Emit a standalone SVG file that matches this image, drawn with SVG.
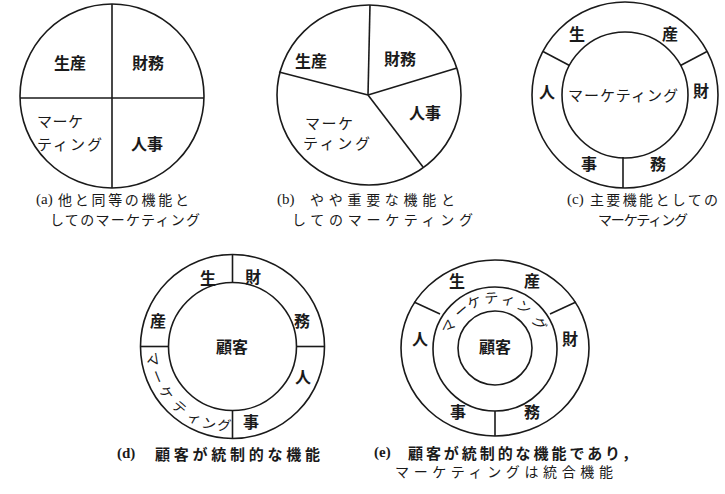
<svg xmlns="http://www.w3.org/2000/svg" width="725" height="494" viewBox="0 0 725 494">
<style>
.bg{fill:#fff}
.ln{fill:none;stroke:#1a1a1a;stroke-width:1.6}
.t{font-family:"Noto Sans CJK JP","Noto Sans CJK SC",sans-serif;fill:#1a1a1a}
.p{font-family:"Liberation Serif",serif;fill:#1a1a1a;font-size:15px;dominant-baseline:central}
.lb{font-size:16px;font-weight:bold;text-anchor:middle;dominant-baseline:central}
.kk{font-size:15px;dominant-baseline:central}
.cap{font-size:14px;dominant-baseline:central}
.capb{font-size:15px;font-weight:bold;dominant-baseline:central}
.arc{font-size:14px;text-anchor:middle;dominant-baseline:central}
</style>
<rect class="bg" width="725" height="494"/>

<g id="a">
<circle class="ln" cx="112" cy="96" r="92"/>
<g id="connectors-a"><line class="ln" x1="112" y1="4" x2="112" y2="188"/><line class="ln" x1="20" y1="98" x2="204" y2="98"/></g>
<text class="t lb" x="70" y="62">生産</text>
<text class="t lb" x="148" y="62">財務</text>
<text class="t kk" x="37" y="120" textLength="46">マーケ</text>
<text class="t kk" x="37" y="143" textLength="65">ティング</text>
<text class="t lb" x="147" y="143">人事</text>
<text class="p" x="36" y="199">(a)</text>
<text class="t cap" x="58" y="199" textLength="131">他と同等の機能と</text>
<text class="t cap" x="50" y="219" textLength="150">してのマーケティング</text>
</g>

<g id="b">
<ellipse class="ln" cx="369" cy="95" rx="92" ry="90"/>
<g id="connectors-b">
<line class="ln" x1="368" y1="95" x2="370" y2="5"/>
<line class="ln" x1="368" y1="95" x2="279" y2="72"/>
<line class="ln" x1="368" y1="95" x2="457" y2="68"/>
<line class="ln" x1="368" y1="95" x2="423" y2="167"/>
</g>
<text class="t lb" x="311" y="60">生産</text>
<text class="t lb" x="400" y="58">財務</text>
<text class="t lb" x="425" y="112">人事</text>
<text class="t kk" x="305" y="122" textLength="48">マーケ</text>
<text class="t kk" x="303" y="142" textLength="67">ティング</text>
<text class="p" x="277" y="199">(b)</text>
<text class="t cap" x="310" y="199" textLength="145">やや重要な機能と</text>
<text class="t cap" x="292" y="219" textLength="181">してのマーケティング</text>
</g>

<g id="c">
<circle class="ln" cx="625" cy="95" r="93"/>
<circle class="ln" cx="625" cy="95" r="63"/>
<g id="connectors-c">
<line class="ln" x1="543" y1="51.5" x2="569.5" y2="65.5"/>
<line class="ln" x1="707" y1="51.5" x2="680.5" y2="65.5"/>
<line class="ln" x1="623" y1="157" x2="623" y2="188"/>
</g>
<text class="t lb" x="577" y="33">生</text>
<text class="t lb" x="670" y="33">産</text>
<text class="t lb" x="547" y="91">人</text>
<text class="t lb" x="701" y="90">財</text>
<text class="t lb" x="589" y="163">事</text>
<text class="t lb" x="658" y="163">務</text>
<text class="t kk" x="568" y="94" textLength="110">マーケティング</text>
<text class="p" x="567" y="199">(c)</text>
<text class="t cap" x="590" y="199" textLength="128">主要機能としての</text>
<text class="t cap" x="598" y="219" textLength="90">マーケティング</text>
</g>

<g id="d">
<circle class="ln" cx="232.5" cy="346.5" r="92"/>
<circle class="ln" cx="232.5" cy="346.5" r="64"/>
<g id="connectors-d">
<line class="ln" x1="232.5" y1="254.5" x2="232.5" y2="282.5"/>
<line class="ln" x1="296.5" y1="346.5" x2="324.5" y2="346.5"/>
<line class="ln" x1="232.5" y1="410.5" x2="232.5" y2="438.5"/>
<line class="ln" x1="140.5" y1="346.5" x2="168.5" y2="346.5"/>
</g>
<text class="t lb" x="208" y="277">生</text>
<text class="t lb" x="253" y="276">財</text>
<text class="t lb" x="158" y="320">産</text>
<text class="t lb" x="302" y="320">務</text>
<text class="t lb" x="232" y="346">顧客</text>
<text class="t lb" x="303" y="376">人</text>
<text class="t lb" x="251" y="421">事</text>
<text class="t arc" transform="translate(153.5 359) rotate(81)">マ</text>
<text class="t arc" transform="translate(158.3 376.5) rotate(68)">ー</text>
<text class="t arc" transform="translate(167 392.4) rotate(55)">ケ</text>
<text class="t arc" transform="translate(180 406.9) rotate(41)">テ</text>
<text class="t arc" transform="translate(195 417.1) rotate(28)">ィ</text>
<text class="t arc" transform="translate(209.1 423) rotate(17)">ン</text>
<text class="t arc" transform="translate(224.3 424.5) rotate(6)">グ</text>
<text class="p" x="117" y="453" font-weight="bold">(d)</text>
<text class="t capb" x="155" y="453" textLength="165">顧客が統制的な機能</text>
</g>

<g id="e">
<ellipse class="ln" cx="495" cy="348" rx="94" ry="88"/>
<circle class="ln" cx="495" cy="349" r="62"/>
<circle class="ln" cx="495" cy="348" r="37"/>
<g id="connectors-e">
<line class="ln" x1="414" y1="302" x2="440" y2="314"/>
<line class="ln" x1="576" y1="302" x2="550" y2="314"/>
<line class="ln" x1="495" y1="411" x2="495" y2="436"/>
</g>
<text class="t lb" x="457" y="280">生</text>
<text class="t lb" x="532" y="280">産</text>
<text class="t lb" x="420" y="338">人</text>
<text class="t lb" x="570" y="338">財</text>
<text class="t lb" x="458" y="411">事</text>
<text class="t lb" x="532" y="411">務</text>
<text class="t lb" x="495" y="346">顧客</text>
<text class="t arc" transform="translate(448.3 326.2) rotate(-64)">マ</text>
<text class="t arc" transform="translate(460.9 309.8) rotate(-41)">ー</text>
<text class="t arc" transform="translate(473.9 301.5) rotate(-24)">ケ</text>
<text class="t arc" transform="translate(491.4 297.1) rotate(-4)">テ</text>
<text class="t arc" transform="translate(508.5 298.8) rotate(15)">ィ</text>
<text class="t arc" transform="translate(524.8 306.4) rotate(35)">ン</text>
<text class="t arc" transform="translate(540 323) rotate(60)">グ</text>
<text class="p" x="374" y="452" font-weight="bold">(e)</text>
<text class="t capb" x="408" y="452" textLength="229">顧客が統制的な機能であり，</text>
<text class="t cap" x="395" y="471" textLength="218">マーケティングは統合機能</text>
</g>
</svg>
